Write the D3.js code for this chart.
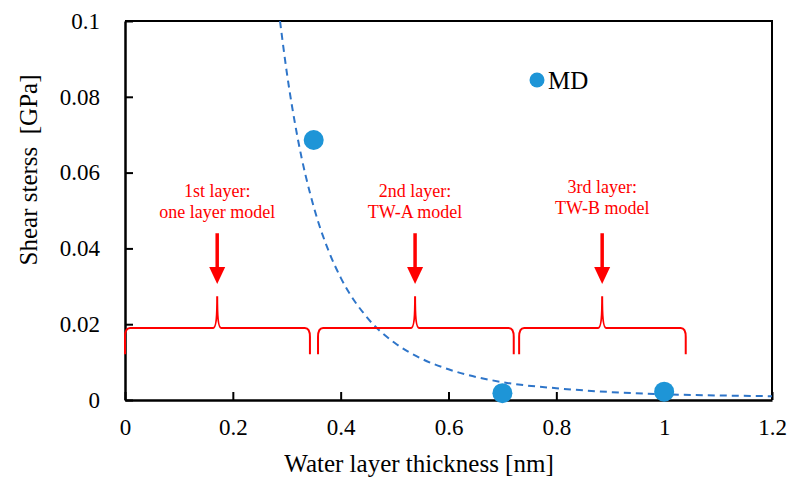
<!DOCTYPE html>
<html>
<head>
<meta charset="utf-8">
<script src="https://cdn.jsdelivr.net/npm/d3@7"></script>
<style>
  body { margin: 0; background: #fff; }
  svg { display: block; }
  svg text { font-family: "Liberation Serif", "Times New Roman", serif; }
</style>
</head>
<body>
<div id="chart"></div>
<script>
// MD results
const mdThickness = [0.35, 0.70, 1.00];
const mdStress = [0.0686, 0.0018, 0.0022];

// dashed fit curve
const fitThickness = [0.2875, 0.30, 0.32, 0.35, 0.38, 0.40, 0.45, 0.50, 0.55, 0.60, 0.70, 0.80, 0.90, 1.00, 1.10, 1.20];
const fitStress = [0.1, 0.0865, 0.0693, 0.0510, 0.0385, 0.0323, 0.0216, 0.0151, 0.0109, 0.0081, 0.0047, 0.0031, 0.0021, 0.0015, 0.0012, 0.0010];

// layer annotations
const layerLine1 = ["1st layer:", "2nd layer:", "3rd layer:"];
const layerLine2 = ["one layer model", "TW-A model", "TW-B model"];
const braceStart = [0, 0.358, 0.731];
const braceEnd = [0.343, 0.721, 1.04];
const bracePeak = [0.171, 0.538, 0.885];
const labelLift = [0, 0, 0.0011];

const xTicks = [0, 0.2, 0.4, 0.6, 0.8, 1.0, 1.2];
const xTickLabels = ["0", "0.2", "0.4", "0.6", "0.8", "1", "1.2"];
const yTicks = [0, 0.02, 0.04, 0.06, 0.08, 0.1];
const yTickLabels = ["0", "0.02", "0.04", "0.06", "0.08", "0.1"];

const serif = "'Liberation Serif', 'Times New Roman', serif";

let width = 788,
    height = 480;
let margin = { top: 21, right: 16, bottom: 80, left: 125 };
let innerW = width - margin.left - margin.right,
    innerH = height - margin.top - margin.bottom;

let svg = d3.select("#chart")
    .append("svg")
    .attr("width", width)
    .attr("height", height)
    .append("g")
    .attr("transform", `translate(${margin.left}, ${margin.top})`);

let x = d3.scaleLinear().domain([0, 1.2]).range([0, innerW]);
let y = d3.scaleLinear().domain([0, 0.1]).range([innerH, 0]);

// frame (top + right)
svg.append("path")
    .attr("d", `M0,0H${innerW}V${innerH}`)
    .attr("fill", "none")
    .attr("stroke", "#000")
    .attr("stroke-width", 2);

let xAxis = svg.append("g")
    .attr("transform", `translate(0, ${innerH})`)
    .call(d3.axisBottom(x).tickValues(xTicks)
        .tickFormat((d, i) => xTickLabels[i])
        .tickSizeInner(-8).tickSizeOuter(0).tickPadding(19));

let yAxis = svg.append("g")
    .call(d3.axisLeft(y).tickValues(yTicks)
        .tickFormat((d, i) => yTickLabels[i])
        .tickSizeInner(-8).tickSizeOuter(0).tickPadding(25));

[xAxis, yAxis].forEach(function (a) {
    a.attr("font-family", null);
    a.select(".domain").attr("stroke", "#000").attr("stroke-width", 2.5);
    a.selectAll(".tick line").attr("stroke", "#000").attr("stroke-width", 2);
    a.selectAll(".tick text")
        .attr("fill", "#000")
        .style("font-family", serif)
        .style("font-size", "23px");
});

// clip so curve stays in the box
svg.append("clipPath").attr("id", "plotClip")
    .append("rect").attr("width", innerW).attr("height", innerH);

let fitData = fitThickness.map((t, i) => ({ t: t, s: fitStress[i] }));
svg.append("path")
    .datum(fitData)
    .attr("clip-path", "url(#plotClip)")
    .attr("fill", "none")
    .attr("stroke", "#2e75c9")
    .attr("stroke-width", 2)
    .attr("stroke-dasharray", "7,5")
    .attr("d", d3.line().x(d => x(d.t)).y(d => y(d.s)).curve(d3.curveMonotoneX));

// braces
function bracePath(i) {
    let x0 = x(braceStart[i]), x1 = x(braceEnd[i]), xm = x(bracePeak[i]);
    let yl = y(0.019), ye = y(0.0121), yp = y(0.0274);
    return `M${x0},${ye} L${x0},${yl + 9} Q${x0},${yl} ${x0 + 5},${yl}` +
        ` L${xm - 4},${yl} Q${xm},${yl} ${xm},${yp} Q${xm},${yl} ${xm + 4},${yl}` +
        ` L${x1 - 5},${yl} Q${x1},${yl} ${x1},${yl + 9} L${x1},${ye}`;
}

svg.selectAll(".brace")
    .data(bracePeak)
    .enter()
    .append("path")
    .attr("class", "brace")
    .attr("fill", "none")
    .attr("stroke", "#ff0000")
    .attr("stroke-width", 2)
    .attr("d", (d, i) => bracePath(i));

// arrows
let arrows = svg.selectAll(".arrow")
    .data(bracePeak)
    .enter()
    .append("g")
    .attr("class", "arrow");

arrows.append("line")
    .attr("x1", d => x(d)).attr("x2", d => x(d))
    .attr("y1", y(0.044)).attr("y2", y(0.0335))
    .attr("stroke", "#ff0000")
    .attr("stroke-width", 3.5);

arrows.append("path")
    .attr("fill", "#ff0000")
    .attr("d", function (d) {
        let cx = x(d), tip = y(0.0306), base = tip - 17;
        return `M${cx - 8},${base} L${cx + 8},${base} L${cx},${tip} Z`;
    });

// layer labels
let labels = svg.selectAll(".layer-label")
    .data(bracePeak)
    .enter()
    .append("text")
    .attr("class", "layer-label")
    .attr("fill", "#ff0000")
    .style("font-family", serif)
    .style("font-size", "18px")
    .style("text-anchor", "middle");

labels.append("tspan")
    .attr("x", d => x(d))
    .attr("y", (d, i) => y(0.0536 + labelLift[i]))
    .text((d, i) => layerLine1[i]);

labels.append("tspan")
    .attr("x", d => x(d))
    .attr("y", (d, i) => y(0.0481 + labelLift[i]))
    .text((d, i) => layerLine2[i]);

// MD points
svg.selectAll(".md")
    .data(mdThickness)
    .enter()
    .append("circle")
    .attr("class", "md")
    .attr("cx", d => x(d))
    .attr("cy", (d, i) => y(mdStress[i]))
    .attr("r", 10)
    .attr("fill", "#1e95d7");

// legend
let legend = svg.append("g")
    .attr("transform", `translate(${537 - margin.left}, ${80 - margin.top})`);
legend.append("circle").attr("r", 7.5).attr("fill", "#1e95d7");
legend.append("text")
    .attr("x", 11)
    .attr("y", 9)
    .style("font-family", serif)
    .style("font-size", "25px")
    .attr("fill", "#000")
    .text("MD");

// axis titles
svg.append("text")
    .attr("transform", `translate(${419 - margin.left}, ${472 - margin.top})`)
    .style("text-anchor", "middle")
    .style("font-family", serif)
    .style("font-size", "25px")
    .text("Water layer thickness [nm]");

svg.append("text")
    .attr("transform", `translate(${37 - margin.left}, ${170 - margin.top}) rotate(-90)`)
    .style("text-anchor", "middle")
    .style("font-family", serif)
    .style("font-size", "25px")
    .style("white-space", "pre")
    .text("Shear sterss  [GPa]");
</script>
</body>
</html>
